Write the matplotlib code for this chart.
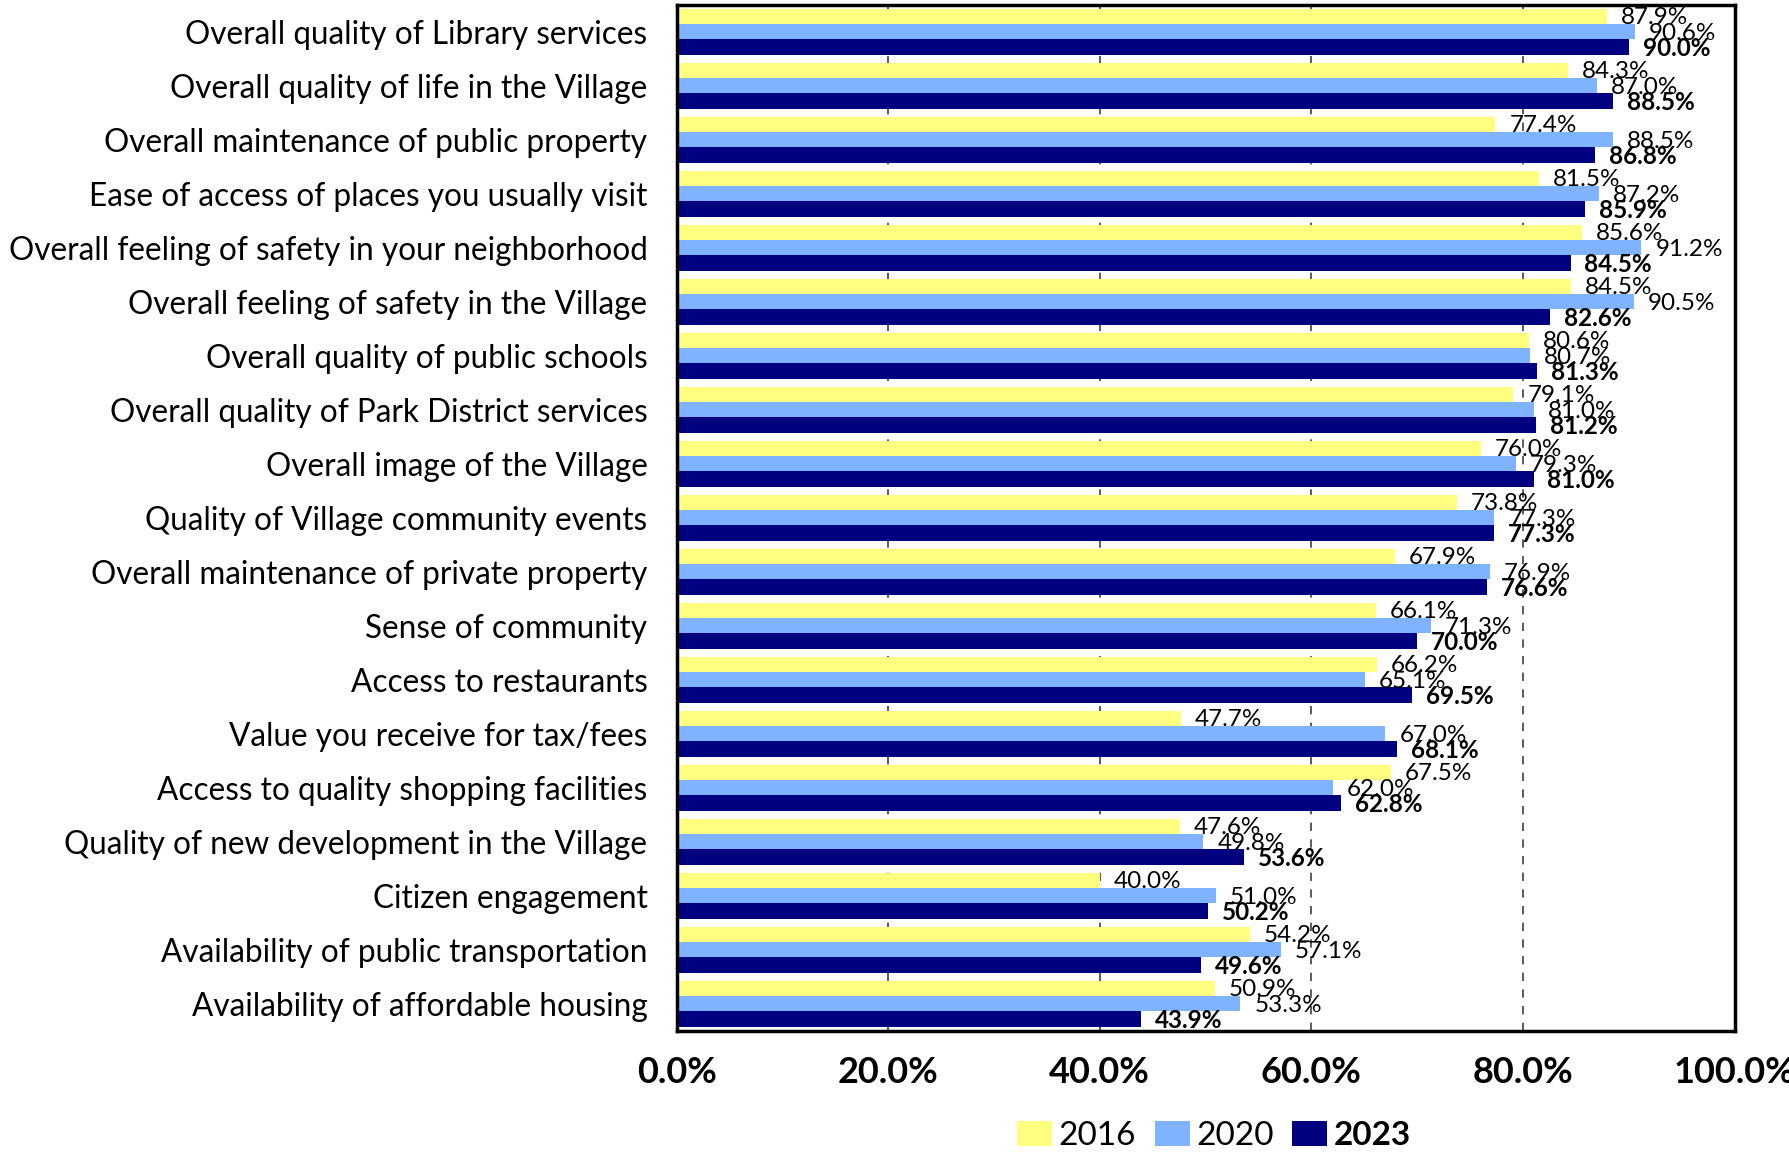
import matplotlib
matplotlib.use('Agg')
import matplotlib.pyplot as plt
import numpy as np
from matplotlib.ticker import FuncFormatter

categories = [
    'Overall quality of Library services',
    'Overall quality of life in the Village',
    'Overall maintenance of public property',
    'Ease of access of places you usually visit',
    'Overall feeling of safety in your neighborhood',
    'Overall feeling of safety in the Village',
    'Overall quality of public schools',
    'Overall quality of Park District services',
    'Overall image of the Village',
    'Quality of Village community events',
    'Overall maintenance of private property',
    'Sense of community',
    'Access to restaurants',
    'Value you receive for tax/fees',
    'Access to quality shopping facilities',
    'Quality of new development in the Village',
    'Citizen engagement',
    'Availability of public transportation',
    'Availability of affordable housing',
]
v2016 = [87.9, 84.3, 77.4, 81.5, 85.6, 84.5, 80.6, 79.1, 76.0, 73.8,
         67.9, 66.1, 66.2, 47.7, 67.5, 47.6, 40.0, 54.2, 50.9]
v2020 = [90.6, 87.0, 88.5, 87.2, 91.2, 90.5, 80.7, 81.0, 79.3, 77.3,
         76.9, 71.3, 65.1, 67.0, 62.0, 49.8, 51.0, 57.1, 53.3]
v2023 = [90.0, 88.5, 86.8, 85.9, 84.5, 82.6, 81.3, 81.2, 81.0, 77.3,
         76.6, 70.0, 69.5, 68.1, 62.8, 53.6, 50.2, 49.6, 43.9]
years = ['2016', '2020', '2023']
colors = ['#FFFF80', '#80B3FF', '#000080']

plt.rcParams['font.family'] = ['Lato', 'DejaVu Sans']

fig = plt.figure(figsize=(17.9, 11.53), dpi=100)
ax = fig.add_axes([0.378, 0.106, 0.591, 0.890])

n = len(categories)
y = np.arange(n)
h = 0.283

for i, (vals, c, yr) in enumerate(zip([v2016, v2020, v2023], colors, years)):
    pos = y - h + i * h
    bars = ax.barh(pos, vals, height=h, color=c, label=yr, zorder=2)
    weight = 'bold' if yr == '2023' else 'normal'
    for b, v in zip(bars, vals):
        ax.annotate(f'{v:.1f}%', (v, b.get_y() + h / 2), xytext=(10, -1),
                    textcoords='offset points', va='center', ha='left',
                    fontsize=17.5, fontweight=weight, zorder=3)

ax.set_ylim(n - 0.5, -0.5)
ax.set_yticks(y)
ax.set_yticklabels(categories, fontsize=22.7)
ax.tick_params(axis='y', length=0, pad=21)

ax.set_xlim(0, 100)
ax.set_xticks(np.arange(0, 101, 20))
ax.xaxis.set_major_formatter(FuncFormatter(lambda x, _: f'{x:.1f}%'))
ax.tick_params(axis='x', length=0, pad=18, labelsize=26)
for t in ax.get_xticklabels():
    t.set_fontweight('bold')

ax.set_axisbelow(True)
ax.xaxis.grid(True, linestyle=(0, (5, 5)), color='#404040', linewidth=1.2)
for s in ax.spines.values():
    s.set_linewidth(2.5)
    s.set_color('black')

leg = fig.legend(loc='center', bbox_to_anchor=(1214 / 1790, 1 - 1136 / 1153),
                 ncol=3, frameon=False, fontsize=24, handlelength=1.05,
                 handleheight=0.75, columnspacing=0.55, handletextpad=0.2)
leg.get_texts()[2].set_fontweight('bold')

fig.savefig('out.png', dpi=100)
